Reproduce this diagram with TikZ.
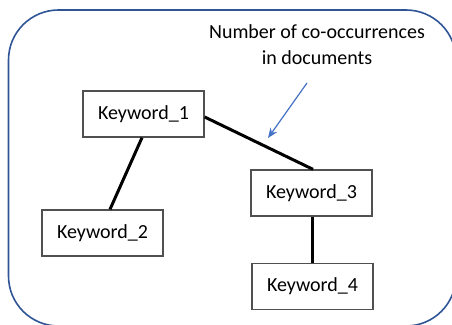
\documentclass[tikz,border=0pt]{standalone}
\usepackage{fontspec}
\setmainfont{Carlito}
\usetikzlibrary{arrows.meta}
\definecolor{frameblue}{HTML}{2F5597}
\definecolor{arrowblue}{HTML}{4472C4}
\definecolor{boxgray}{HTML}{505050}
\tikzset{
  kwbox/.style={draw=boxgray, line width=1.3pt, fill=white, minimum width=121pt, minimum height=46pt, inner sep=0pt, font=\fontsize{20}{24}\selectfont},
  link/.style={line width=3pt, black},
  frame/.style={draw=frameblue, line width=1.6pt, rounded corners=50pt},
  note/.style={align=center, font=\fontsize{20}{26}\selectfont, inner sep=0pt},
  pointer/.style={draw=arrowblue, line width=1.2pt, -{Stealth[length=10pt,width=8pt]}}
}
\begin{document}
\begin{tikzpicture}[x=1pt,y=-1pt]
\useasboundingbox (0,0) rectangle (452,324);
\clip (0,0) rectangle (452,324);
\fill[white] (0,0) rectangle (452,324);
\draw[frame] (8.5,10) rectangle (456,326);
\node[kwbox] (k1) at (143.5,114) {Keyword\_1};
\node[kwbox] (k2) at (102.5,233) {Keyword\_2};
\node[kwbox] (k3) at (311.5,193) {Keyword\_3};
\node[kwbox] (k4) at (312.5,286.5) {Keyword\_4};
\node[note] (lbl) at (317,45) {Number of co-occurrences\\in documents};
\draw[link] ([xshift=-1.5pt]k1.south) -- ([xshift=7.5pt]k2.north);
\draw[link] ([yshift=-3pt]k1.east) -- ([xshift=1.5pt]k3.north);
\draw[link] ([xshift=0.5pt]k3.south) -- ([xshift=-0.5pt]k4.north);
\coordinate (ptail) at (307,83);
\coordinate (phead) at (268,138);
\draw[pointer] (ptail) -- (phead);
\end{tikzpicture}
\end{document}
